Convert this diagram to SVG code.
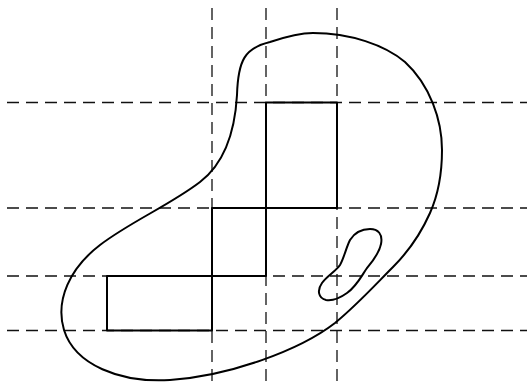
<svg xmlns="http://www.w3.org/2000/svg" width="527" height="384" viewBox="0 0 527 384">
<style>
.grid{stroke:#111;stroke-width:1.3;stroke-dasharray:12 7;fill:none}
.solid{stroke:#000;stroke-width:2;fill:none;stroke-linejoin:round}
</style>
<rect width="527" height="384" fill="#fff"/>
<g id="grid">
<line class="grid" x1="212" y1="8" x2="212" y2="384"/>
<line class="grid" x1="266" y1="8" x2="266" y2="384"/>
<line class="grid" x1="337" y1="8" x2="337" y2="384"/>
<line class="grid" x1="7" y1="102.5" x2="527" y2="102.5"/>
<line class="grid" x1="7" y1="208" x2="527" y2="208"/>
<line class="grid" x1="7" y1="276" x2="527" y2="276"/>
<line class="grid" x1="7" y1="330.5" x2="527" y2="330.5"/>
</g>
<g id="region">
<path class="solid" d="M 313,33 C 350,33 385,45 405,62 C 430,85 442,120 442,150 C 442,175 438,195 430,213 C 422,231 410,250 393,267 C 376,284 358,304 335,323 C 300,350 230,376 170,380 C 120,383 75,365 64,330 C 55,300 70,268 100,245 C 130,222 170,205 200,182 C 225,163 235,130 237,95 C 238,60 245,48 270,42 C 285,37 300,33 313,33 Z"/>
</g>
<g id="hole">
<path class="solid" d="M 370,229 C 378,229 383,234 381,244 C 379,254 372,262 367,268 C 362,275 357,286 347,293 C 340,298 332,301 326,300 C 318,298 317,290 322,283 C 327,276 336,271 340,265 C 344,258 346,248 350,240 C 355,232 362,229 370,229 Z"/>
</g>
<g id="cells">
<rect class="solid" x="266" y="102.5" width="71" height="105.5"/>
<rect class="solid" x="212" y="208" width="54" height="68"/>
<rect class="solid" x="107" y="276" width="105" height="54.5"/>
</g>
</svg>
